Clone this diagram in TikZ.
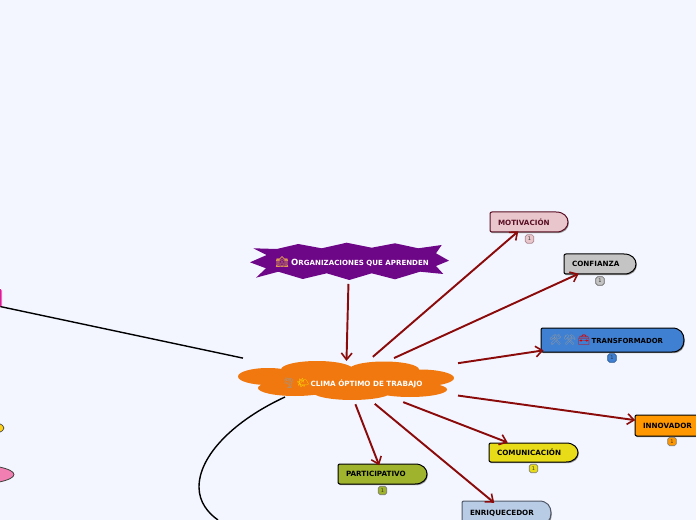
\documentclass[tikz,border=0pt]{standalone}
\usepackage{fontspec}
\setmainfont{DejaVu Sans}
\newfontfamily\emojifont{Noto Emoji}
\usetikzlibrary{arrows.meta}
\definecolor{bgc}{HTML}{F3F6FF}
\definecolor{darkred}{HTML}{8B0A0A}
\definecolor{cloudc}{HTML}{F0780E}
\definecolor{purplec}{HTML}{6E0787}
\definecolor{motivc}{HTML}{E8C6CC}
\definecolor{motivd}{HTML}{5A0F24}
\definecolor{confc}{HTML}{C4C4C4}
\definecolor{transfc}{HTML}{3F80D2}
\definecolor{innovc}{HTML}{FF9800}
\definecolor{comunc}{HTML}{E8DC18}
\definecolor{partic}{HTML}{9FB42C}
\definecolor{enriqc}{HTML}{B8CCE6}
\definecolor{enriqd}{HTML}{505868}
\definecolor{pinkc}{HTML}{F27FB2}
\definecolor{magc}{HTML}{E0189A}
\definecolor{yelc}{HTML}{FFD21A}
\tikzset{
  x=0.75pt,y=-0.75pt,
  arrowline/.style={draw=darkred,line width=1.45pt,-{Straight Barb[length=5pt,width=8pt,line width=1.2pt]}},
  blackline/.style={draw=black,line width=1.05pt},
  label/.style={font=\fontsize{5.4}{6}\selectfont\bfseries,inner sep=0pt,align=left},
  whitelabel/.style={label,text=white},
  badgetext/.style={font=\fontsize{3.8}{4}\selectfont,inner sep=0pt,text=black!80},
}
% name, x1, y1, x2, y2, fill, border, text colour, text
\newcommand{\pillpath}[4]{%
    (#1+2,#2) -- (#3-12,#2) .. controls (#3-4,#2) and (#3,#2+5) .. (#3,{(#2+#4)/2})
    .. controls (#3,#4-5) and (#3-4,#4) .. (#3-12,#4) -- (#1+2,#4)
    .. controls (#1+0.7,#4) and (#1,#4-0.7) .. (#1,#4-2) -- (#1,#2+2)
    .. controls (#1,#2+0.7) and (#1+0.7,#2) .. (#1+2,#2) -- cycle}
\newcommand{\pillbox}[9]{%
  \fill[black!45] \pillpath{#2+0.8}{#3+1.2}{#4+0.8}{#5+1.2};
  \draw[fill=#6,draw=#7,line width=0.75pt] \pillpath{#2}{#3}{#4}{#5};
  \node[label,text=#8,anchor=center,text width={(#4-#2-16)*0.75pt}] (#1) at ({(#2+#4)/2},{(#3+#5)/2}) {#9};
}
% name, centre x, centre y, fill, border
\newcommand{\countbadge}[5]{%
  \node[badgetext,draw=#5,fill=#4,rounded corners=1.4pt,line width=0.45pt,minimum width=6.4pt,minimum height=6.4pt] (#1) at (#2,#3) {1};
}
\begin{document}
\begin{tikzpicture}
\useasboundingbox (0,0) rectangle (696,520);
\clip (0,0) rectangle (696,520);
\fill[bgc] (0,0) rectangle (696,520);

% off-page neighbours on the left
\node[draw=white,fill=magc,rounded corners=1.5pt,line width=0.6pt,minimum width=63pt,minimum height=14.5pt,inner sep=0pt] (pinktop) at (-40,298) {};
\draw[fill=yelc,draw=black!75,line width=0.5pt] (-14,428) ellipse [x radius=18,y radius=6.5];
\node[inner sep=0pt,minimum size=0pt] (yellownode) at (-14,428) {};
\draw[fill=pinkc,draw=black!75,line width=0.6pt] (-35,474.5) ellipse [x radius=49,y radius=10.5];
\node[inner sep=0pt,minimum size=0pt] (pinknode) at (-35,474.5) {};

% central cloud
\fill[cloudc] (268,376.5) ellipse [x radius=30,y radius=8.5]
  (317,369.5) ellipse [x radius=36,y radius=8.5]
  (384,369.5) ellipse [x radius=35,y radius=8]
  (420,378) ellipse [x radius=34,y radius=8.5]
  (295,388) ellipse [x radius=37,y radius=8]
  (352,391.5) ellipse [x radius=40,y radius=8.5]
  (410,389.5) ellipse [x radius=37,y radius=7.5]
  (346,380) ellipse [x radius=80,y radius=11];
\node[inner sep=0pt] (clima) at (346,380) {\phantom{x}};
\node[whitelabel,anchor=west] (climatext) at (282,383.5) {{\emojifont\fontsize{7.5}{9}\selectfont\textcolor{black!40}{🌪}\,\textcolor{yellow!85!orange}{🌤}}\,CLIMA ÓPTIMO DE TRABAJO};

% organisations star
\fill[purplec] (250,262.3) -- (266.7,255) -- (253.3,248.3) -- (276.7,249) -- (298.3,244) -- (321.7,248.3) -- (346.7,242.7) -- (371.7,247.7) -- (395,243.3) -- (418.3,248.3) -- (441.7,245) -- (436,253.3) -- (449,260.7) -- (436,266) -- (443.3,274) -- (420,271.7) -- (395,279.3) -- (371.7,273.3) -- (349.3,280) -- (326.7,273.3) -- (302.7,279) -- (278.3,271.7) -- (256,277.7) -- (266,268.3) -- cycle;
\node[inner sep=0pt] (org) at (349,262) {\phantom{x}};
\node[whitelabel,anchor=west,font=\fontsize{5.3}{6}\selectfont\bfseries] (orgtext) at (275,262) {{\emojifont\fontsize{8}{9}\selectfont\textcolor{brown!60!orange!80!white}{🏫}}\,\,{\fontsize{6.4}{7}\selectfont O}RGANIZACIONES QUE APRENDEN};

% topic boxes
\pillbox{motiv}{490}{212}{568}{232}{motivc}{motivd}{motivd}{MOTIVACIÓN}
\countbadge{motivb}{529.5}{239}{motivc}{motivd!50!white}
\pillbox{conf}{564}{254}{636}{274}{confc}{black}{black}{CONFIANZA}
\countbadge{confb}{600}{281}{confc}{black!60}
\pillbox{transf}{541}{328}{684}{352}{transfc}{black}{black}{{\emojifont\fontsize{7.5}{9}\selectfont\textcolor{black!40}{🛠}\,\textcolor{black!40}{⚒}\,\textcolor{red!85!black}{🧰}}\,{\fontsize{5.2}{6}\selectfont TRANSFORMADOR}}
\countbadge{transfb}{612}{358}{transfc}{transfc!70!black}
\pillbox{innov}{635}{415}{712}{436}{innovc}{black}{black}{INNOVADOR}
\countbadge{innovb}{672}{441.5}{innovc}{black!50}
\pillbox{comun}{489}{443}{578}{462}{comunc}{black}{black}{COMUNICACIÓN}
\countbadge{comunb}{533.5}{468.5}{comunc}{black!50}
\pillbox{parti}{338}{464}{427}{484}{partic}{black}{black}{PARTICIPATIVO}
\countbadge{partib}{382.5}{490.5}{partic}{black!50}
\pillbox{enriq}{462}{501}{551}{525}{enriqc}{enriqd}{black}{ENRIQUECEDOR}

% connectors
\coordinate (curvetop) at (285,397);
\coordinate (curvebend) at (199,487);
\coordinate (curvelow) at (218,520);
\path[blackline,draw] (curvetop) .. controls (235,420) and (199,455) .. (curvebend) .. controls (199,502) and (208,513) .. (curvelow);
\draw[blackline,shorten <=31pt,shorten >=79pt] (pinktop.center) -- (clima.center);
\draw[arrowline,shorten <=16.5pt,shorten >=14.3pt] (org.center) -- (clima.center);
\draw[arrowline,shorten <=26.6pt,shorten >=10.6pt] (clima.center) -- (motiv.center);
\draw[arrowline,shorten <=39.6pt,shorten >=17.5pt] (clima.center) -- (conf.center);
\draw[arrowline,shorten <=85pt,shorten >=52.3pt] (clima.center) -- (transf.center);
\draw[arrowline,shorten <=84.8pt,shorten >=29pt] (clima.center) -- (innov.center);
\draw[arrowline,shorten <=46pt,shorten >=20.7pt] (clima.center) -- (comun.center);
\draw[arrowline,shorten <=19.5pt,shorten >=7pt] (clima.center) -- (parti.center);
\draw[arrowline,shorten <=28pt,shorten >=12pt] (clima.center) -- (enriq.center);
\end{tikzpicture}
\end{document}
